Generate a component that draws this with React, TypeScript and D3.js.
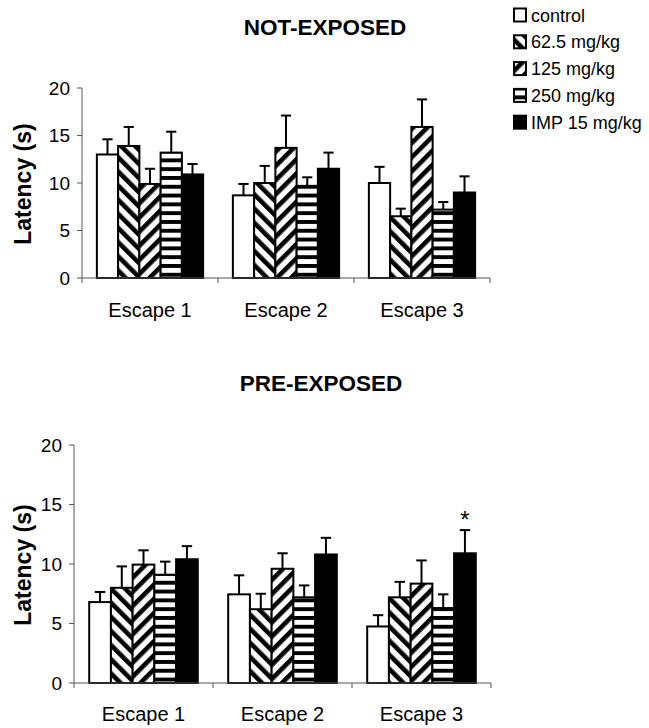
import React from 'react';
import * as d3 from 'd3';

// categories and groups
const categories = ['Escape 1', 'Escape 2', 'Escape 3'];
const groups = ['control', '62.5 mg/kg', '125 mg/kg', '250 mg/kg', 'IMP 15 mg/kg'];
const yTicks = [0, 5, 10, 15, 20];

// NOT-EXPOSED: means and SEM per group, one value per escape
const notControl = [13.0, 8.7, 10.0];
const notControlErr = [1.6, 1.2, 1.7];
const not625 = [13.9, 10.0, 6.5];
const not625Err = [2.0, 1.8, 0.8];
const not125 = [9.9, 13.7, 15.9];
const not125Err = [1.6, 3.4, 2.9];
const not250 = [13.2, 9.7, 7.2];
const not250Err = [2.2, 0.9, 0.8];
const notImp = [10.9, 11.5, 9.0];
const notImpErr = [1.1, 1.7, 1.7];

// PRE-EXPOSED
const preControl = [6.8, 7.45, 4.75];
const preControlErr = [0.85, 1.6, 0.95];
const pre625 = [8.0, 6.2, 7.2];
const pre625Err = [1.8, 1.3, 1.3];
const pre125 = [9.95, 9.6, 8.35];
const pre125Err = [1.2, 1.3, 1.95];
const pre250 = [9.1, 7.2, 6.3];
const pre250Err = [1.1, 1.0, 1.15];
const preImp = [10.4, 10.8, 10.9];
const preImpErr = [1.1, 1.4, 1.95];
// significance marks: [category, group]
const preStars = [['Escape 3', 'IMP 15 mg/kg']];

const notMeans = [notControl, not625, not125, not250, notImp];
const notErrs = [notControlErr, not625Err, not125Err, not250Err, notImpErr];
const preMeans = [preControl, pre625, pre125, pre250, preImp];
const preErrs = [preControlErr, pre625Err, pre125Err, pre250Err, preImpErr];

const FONT = '"Liberation Sans", Arial, sans-serif';
const fills = ['#fff', 'url(#diagDown)', 'url(#diagUp)', 'url(#horiz)', '#000'];

type PanelProps = {
  title: string;
  titleX: number;
  titleY: number;
  x0: number;
  x1: number;
  yBottom: number;
  yTop: number;
  means: number[][];
  errs: number[][];
  stars?: string[][];
  labelY: number;
};

function Panel({ title, titleX, titleY, x0, x1, yBottom, yTop, means, errs, stars = [], labelY }: PanelProps) {
  const x = d3.scaleBand().domain(categories).range([x0, x1]).padding(0);
  const xi = d3.scaleBand().domain(groups).range([0, x.bandwidth()]).paddingInner(0).paddingOuter(0.7);
  const y = d3.scaleLinear().domain([0, 20]).range([yBottom, yTop]);
  const capW = xi.bandwidth() * 0.48;

  return (
    <g>
      <text x={titleX} y={titleY} textAnchor="middle" fontWeight="bold" fontSize={22.5} fontFamily={FONT}>{title}</text>
      <text
        transform={`translate(31,${(y(0) + y(20)) / 2 + 1}) rotate(-90)`}
        textAnchor="middle" fontWeight="bold" fontSize={23} fontFamily={FONT}
      >Latency (s)</text>

      {/* y axis */}
      <line x1={x0} x2={x0} y1={y(20)} y2={y(0)} stroke="#555" strokeWidth={1} />
      {yTicks.map(t => (
        <g key={t}>
          <line x1={x0 - 5} x2={x0} y1={y(t)} y2={y(t)} stroke="#555" strokeWidth={1} />
          <text x={x0 - 12} y={y(t) + 6.5} textAnchor="end" fontSize={19} fontFamily={FONT}>{t}</text>
        </g>
      ))}

      {/* bars */}
      {categories.map((c, ci) => (
        <g key={c}>
          {groups.map((gname, gi) => {
            const bx = (x(c) as number) + (xi(gname) as number);
            const m = means[gi][ci];
            const top = y(m + errs[gi][ci]);
            const cx = bx + xi.bandwidth() / 2;
            return (
              <g key={gname}>
                <line x1={cx} x2={cx} y1={y(m)} y2={top} stroke="#000" strokeWidth={2} />
                <line x1={cx - capW / 2} x2={cx + capW / 2} y1={top} y2={top} stroke="#000" strokeWidth={2} />
                <rect x={bx} y={y(m)} width={xi.bandwidth()} height={y(0) - y(m)}
                  fill={fills[gi]} stroke="#000" strokeWidth={2} />
              </g>
            );
          })}
        </g>
      ))}

      {stars.map(([c, gname]) => {
        const gi = groups.indexOf(gname);
        const ci = categories.indexOf(c);
        const cx = (x(c) as number) + (xi(gname) as number) + xi.bandwidth() / 2;
        return (
          <text key={c + gname} x={cx} y={y(means[gi][ci] + errs[gi][ci]) - 2} textAnchor="middle"
            fontSize={24} fontFamily={FONT}>*</text>
        );
      })}

      {/* x axis */}
      <line x1={x0} x2={x1} y1={y(0)} y2={y(0)} stroke="#555" strokeWidth={1} />
      {[...categories.map(c => x(c) as number), x1].map((p, i) => (
        <line key={i} x1={p} x2={p} y1={y(0)} y2={y(0) + 5} stroke="#555" strokeWidth={1} />
      ))}
      {categories.map(c => (
        <text key={c} x={(x(c) as number) + x.bandwidth() / 2} y={labelY} textAnchor="middle"
          fontSize={20} fontFamily={FONT}>{c}</text>
      ))}
    </g>
  );
}

export default function App() {
  return (
    <svg width={649} height={728} style={{ position: 'absolute', left: 0, top: 0, background: '#fff' }}>
      <defs>
        <pattern id="diagDown" patternUnits="userSpaceOnUse" width={10} height={10} patternTransform="rotate(-45)">
          <rect x={0} y={0} width={10} height={10} fill="#fff" />
          <rect x={0} y={0} width={4.6} height={10} fill="#000" />
        </pattern>
        <pattern id="diagUp" patternUnits="userSpaceOnUse" width={10} height={10} patternTransform="rotate(45)">
          <rect x={0} y={0} width={10} height={10} fill="#fff" />
          <rect x={0} y={0} width={4.6} height={10} fill="#000" />
        </pattern>
        <pattern id="horiz" patternUnits="userSpaceOnUse" width={8.8} height={8.8}>
          <rect x={0} y={0} width={8.8} height={8.8} fill="#fff" />
          <rect x={0} y={0} width={8.8} height={3.9} fill="#000" />
        </pattern>
      </defs>

      <Panel title="NOT-EXPOSED" titleX={325} titleY={35} x0={82} x1={490} yBottom={278} yTop={88}
        means={notMeans} errs={notErrs} labelY={317} />
      <Panel title="PRE-EXPOSED" titleX={321} titleY={391} x0={74} x1={491} yBottom={683} yTop={445}
        means={preMeans} errs={preErrs} stars={preStars} labelY={721} />

      {/* legend */}
      {groups.map((gname, i) => (
        <g key={gname} transform={`translate(513,${15 + i * 26.8})`}>
          <rect x={1} y={-6.5} width={12} height={13} fill={fills[i]} stroke="#000" strokeWidth={2} />
          <text x={18} y={6.5} fontSize={18} fontFamily={FONT}>{gname}</text>
        </g>
      ))}
    </svg>
  );
}
